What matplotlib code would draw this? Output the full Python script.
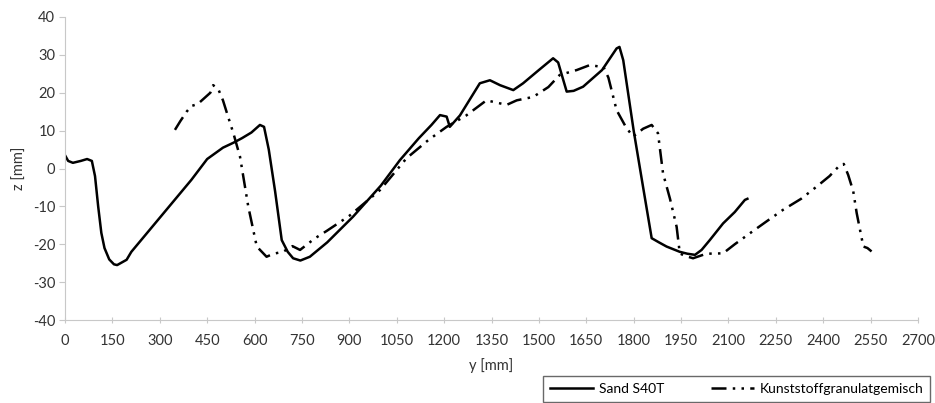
import numpy as np
import matplotlib.pyplot as plt

plt.rcParams['font.family'] = ['Lato', 'DejaVu Sans']
plt.rcParams['axes.unicode_minus'] = False

# Sand S40T (solid line)
sand_y = [0, 10, 25, 50, 70, 85, 95, 105, 115, 125, 140, 155, 165, 180, 195, 210,
          250, 300, 350, 400, 450, 500, 533, 560, 590, 617, 630, 645, 665, 686,
          705, 722, 745, 775, 830, 912, 1000, 1060, 1120, 1160, 1187, 1208, 1218,
          1250, 1313, 1345, 1377, 1419, 1450, 1500, 1545, 1561, 1575, 1588, 1610,
          1640, 1700, 1746, 1755, 1767, 1800, 1830, 1857, 1880, 1904, 1946, 1970,
          1994, 2015, 2041, 2083, 2120, 2152, 2160]
sand_z = [3.5, 2.0, 1.5, 2.0, 2.5, 2.0, -2.0, -10.0, -17.0, -21.0, -24.0, -25.3,
          -25.5, -24.8, -24.1, -22.0, -18.0, -13.0, -8.0, -3.0, 2.5, 5.5, 6.8, 8.0,
          9.5, 11.5, 11.0, 5.0, -6.0, -18.9, -22.0, -23.7, -24.3, -23.3, -19.5,
          -12.7, -4.5, 2.2, 8.0, 11.5, 14.1, 13.7, 11.0, 14.0, 22.5, 23.3, 22.0,
          20.7, 22.5, 26.0, 29.1, 28.0, 24.0, 20.3, 20.5, 21.6, 26.0, 31.7, 32.1,
          28.6, 10.0, -5.0, -18.4, -19.5, -20.6, -22.0, -22.5, -22.8, -21.5, -18.9,
          -14.5, -11.5, -8.3, -8.0]

# Kunststoffgranulatgemisch (dash-dot-dot line)
kunst_y = [348, 365, 385, 400, 420, 440, 460, 469, 485, 500, 515, 533, 554, 580,
           607, 638, 660, 690, 720, 744, 790, 828, 900, 997, 1081, 1150, 1208, 1270,
           1334, 1398, 1430, 1482, 1530, 1566, 1620, 1661, 1693, 1704, 1720, 1746,
           1775, 1798, 1830, 1857, 1877, 1893, 1915, 1936, 1946, 1960, 1988, 2030,
           2083, 2120, 2168, 2220, 2273, 2330, 2379, 2420, 2453, 2465, 2479, 2495,
           2506, 2527, 2540, 2553]
kunst_z = [10.2, 12.5, 15.0, 16.5, 17.0, 18.5, 20.0, 22.0, 21.0, 18.0, 14.0, 9.3,
           3.1, -10.0, -20.6, -23.3, -22.5, -22.0, -20.5, -21.5, -18.5, -16.5,
           -12.5, -5.7, 2.7, 7.5, 11.0, 14.0, 18.0, 16.8, 18.0, 18.9, 21.5, 24.7,
           26.0, 27.3, 26.9, 26.9, 24.0, 15.4, 11.0, 8.4, 10.5, 11.5, 9.3, -1.3,
           -8.0, -15.4, -22.4, -23.0, -23.7, -22.5, -22.4, -20.0, -17.1, -14.0,
           -10.9, -8.0, -4.8, -2.0, 0.9, 1.2, -1.7, -6.0, -11.8, -20.6, -21.0,
           -21.9]

x_ticks = np.arange(0, 2701, 150)
z_ticks = np.arange(-40, 41, 10)

fig = plt.figure(figsize=(9.35, 4.03), dpi=100)
ax = fig.add_axes([65 / 935, 1 - 320 / 403, 853 / 935, 303 / 403])

ax.plot(sand_y, sand_z, color='black', lw=1.8, label='Sand S40T')
ax.plot(kunst_y, kunst_z, color='black', lw=1.8,
        dashes=(6, 2.5, 1, 2.5, 1, 2.5), label='Kunststoffgranulatgemisch')

ax.set_xlim(0, 2700)
ax.set_ylim(-40, 40)
ax.set_xticks(x_ticks)
ax.set_yticks(z_ticks)

for side in ['top', 'right']:
    ax.spines[side].set_visible(False)
for side in ['left', 'bottom']:
    ax.spines[side].set_color('#c8c8c8')
ax.tick_params(axis='both', colors='#c8c8c8', labelcolor='#333333',
               labelsize=10.5, length=4, width=0.8)
ax.tick_params(axis='x', direction='inout', pad=8)
ax.tick_params(axis='y', direction='out', pad=3)

fig.text(20 / 935, 1 - 168 / 403, 'z [mm]', rotation=90, va='center', ha='center',
         fontsize=10.5, color='#333333')
fig.text(491 / 935, 1 - 366 / 403, 'y [mm]', va='center', ha='center',
         fontsize=10.5, color='#333333')

leg = fig.legend(loc='upper left', bbox_to_anchor=(543 / 935, 1 - 376 / 403),
                 ncol=2, frameon=True, fancybox=False, fontsize=10,
                 handlelength=3.1, handletextpad=0.4, columnspacing=3.4,
                 borderpad=0.5, borderaxespad=0)
leg.get_frame().set_edgecolor('#444444')
leg.get_frame().set_linewidth(1.0)

fig.savefig('out.png', dpi=100)
